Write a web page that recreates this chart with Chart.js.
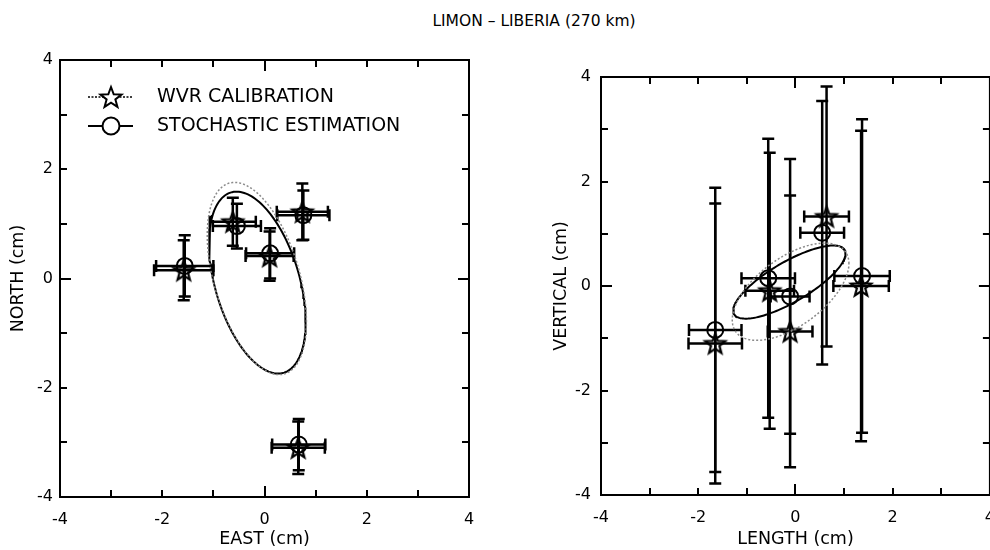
<!DOCTYPE html>
<html>
<head>
<meta charset="utf-8">
<title>LIMON - LIBERIA</title>
<script src="https://cdn.jsdelivr.net/npm/chart.js@4.4.0/dist/chart.umd.min.js"></script>
<style>
    html, body { margin: 0; padding: 0; background: #fff; }
    body { width: 990px; height: 550px; overflow: hidden; position: relative; font-family: "DejaVu Sans", sans-serif; }
    #plotTitle { position: absolute; left: 334px; width: 400px; top: 12px; text-align: center; font-size: 15.5px; color: #000; }
    #horizChart { position: absolute; left: 0; top: 0; }
    #vertChart { position: absolute; left: 520px; top: 0; }
</style>
</head>
<body>
<div id="plotTitle">LIMON – LIBERIA (270 km)</div>
<canvas id="horizChart" width="500" height="550"></canvas>
<canvas id="vertChart" width="488" height="550"></canvas>
<script>
// baseline components, cm
var eastWvr       = [-1.58, -0.62, 0.10, 0.74, 0.66];
var northWvr      = [0.15, 1.04, 0.41, 1.22, -3.10];
var eastWvrErr    = [0.58, 0.45, 0.47, 0.50, 0.52];
var northWvrErr   = [0.55, 0.44, 0.45, 0.52, 0.48];
var eastSto       = [-1.56, -0.54, 0.11, 0.76, 0.67];
var northSto      = [0.23, 0.96, 0.46, 1.16, -3.04];
var eastStoErr    = [0.56, 0.47, 0.47, 0.51, 0.52];
var northStoErr   = [0.56, 0.41, 0.46, 0.45, 0.47];

var lengthWvr      = [-1.65, -0.53, -0.11, 0.64, 1.35];
var verticalWvr    = [-1.10, -0.09, -0.87, 1.33, 0.00];
var lengthWvrErr   = [0.55, 0.50, 0.46, 0.46, 0.57];
var verticalWvrErr = [2.68, 2.64, 2.60, 2.49, 2.97];
var lengthSto      = [-1.65, -0.56, -0.11, 0.55, 1.37];
var verticalSto    = [-0.84, 0.15, -0.20, 1.02, 0.19];
var lengthStoErr   = [0.54, 0.55, 0.40, 0.45, 0.57];
var verticalStoErr = [2.72, 2.67, 2.63, 2.52, 3.00];

// error ellipses: centre x, centre y, sigma x, sigma y, correlation
var horizEllipseSto = [-0.14, -0.075, 0.945, 1.665, -0.43];
var horizEllipseWvr = [-0.15, 0.00, 0.97, 1.76, -0.45];
var vertEllipseSto  = [-0.125, 0.075, 1.155, 0.70, 0.78];
var vertEllipseWvr  = [-0.10, -0.11, 1.20, 0.93, 0.58];

var labelTicks = [-4, -2, 0, 2, 4];
var legendLabels = ['WVR CALIBRATION', 'STOCHASTIC ESTIMATION'];

var ink = '#000';

function toPoints(xs, ys) {
    var pts = [];
    for (var i = 0; i < xs.length; i++) {
        pts.push({ x: xs[i], y: ys[i] });
    }
    return pts;
}

function ellipsePoints(e) {
    var pts = [];
    var n = 160;
    for (var i = 0; i <= n; i++) {
        var t = i / n * 2 * Math.PI;
        pts.push({
            x: e[0] + e[2] * Math.cos(t),
            y: e[1] + e[3] * (e[4] * Math.cos(t) + Math.sqrt(1 - e[4] * e[4]) * Math.sin(t))
        });
    }
    return pts;
}

// five pointed outline star used as a point style
function makeStar(r, lw, fill) {
    var c = document.createElement('canvas');
    var size = Math.ceil(2 * r + lw + 4);
    c.width = size;
    c.height = size;
    var ctx = c.getContext('2d');
    ctx.translate(size / 2, size / 2 + 1);
    ctx.beginPath();
    for (var i = 0; i < 10; i++) {
        var rad = i % 2 === 0 ? r : r * 0.42;
        var a = -Math.PI / 2 + i * Math.PI / 5;
        if (i === 0) ctx.moveTo(rad * Math.cos(a), rad * Math.sin(a));
        else ctx.lineTo(rad * Math.cos(a), rad * Math.sin(a));
    }
    ctx.closePath();
    if (fill) {
        ctx.fillStyle = fill;
        ctx.fill();
    }
    ctx.lineWidth = lw;
    ctx.strokeStyle = ink;
    ctx.stroke();
    return c;
}

var plotStar = makeStar(10.5, 2.2);
var legendStar = makeStar(11, 2, '#fff');

// inward tick marks on all four sides plus the box
var framePlugin = {
    id: 'frame',
    afterDraw: function (chart) {
        var ctx = chart.ctx;
        var a = chart.chartArea;
        var xs = chart.scales.x;
        var ys = chart.scales.y;
        ctx.save();
        ctx.strokeStyle = ink;
        ctx.lineWidth = 2;
        ctx.strokeRect(a.left, a.top, a.right - a.left, a.bottom - a.top);
        for (var v = -3; v <= 3; v++) {
            var len = v === 0 ? 11 : 7;
            var px = Math.round(xs.getPixelForValue(v));
            var py = Math.round(ys.getPixelForValue(v));
            ctx.beginPath();
            ctx.moveTo(px, a.bottom);
            ctx.lineTo(px, a.bottom - len);
            ctx.moveTo(px, a.top);
            ctx.lineTo(px, a.top + len);
            ctx.moveTo(a.left, py);
            ctx.lineTo(a.left + len, py);
            ctx.moveTo(a.right, py);
            ctx.lineTo(a.right - len, py);
            ctx.stroke();
        }
        ctx.restore();
    }
};

// error bars with caps, read from dataset.errX / dataset.errY
var errorBarPlugin = {
    id: 'errorBars',
    beforeDatasetsDraw: function (chart) {
        var ctx = chart.ctx;
        var xs = chart.scales.x;
        var ys = chart.scales.y;
        var cap = 6;
        ctx.save();
        ctx.strokeStyle = ink;
        ctx.lineWidth = 2.5;
        chart.data.datasets.forEach(function (ds) {
            if (!ds.errX) return;
            ds.data.forEach(function (p, i) {
                var x = xs.getPixelForValue(p.x);
                var y = ys.getPixelForValue(p.y);
                var x0 = xs.getPixelForValue(p.x - ds.errX[i]);
                var x1 = xs.getPixelForValue(p.x + ds.errX[i]);
                var y0 = ys.getPixelForValue(p.y - ds.errY[i]);
                var y1 = ys.getPixelForValue(p.y + ds.errY[i]);
                ctx.beginPath();
                ctx.moveTo(x0, y);
                ctx.lineTo(x1, y);
                ctx.moveTo(x0, y - cap);
                ctx.lineTo(x0, y + cap);
                ctx.moveTo(x1, y - cap);
                ctx.lineTo(x1, y + cap);
                ctx.moveTo(x, y0);
                ctx.lineTo(x, y1);
                ctx.moveTo(x - cap, y0);
                ctx.lineTo(x + cap, y0);
                ctx.moveTo(x - cap, y1);
                ctx.lineTo(x + cap, y1);
                ctx.stroke();
            });
        });
        ctx.restore();
    }
};

var legendPlugin = {
    id: 'boxLegend',
    afterDraw: function (chart) {
        var ctx = chart.ctx;
        var a = chart.chartArea;
        var lx = a.left + 28;
        var rows = [a.top + 37, a.top + 66];
        ctx.save();
        ctx.strokeStyle = ink;
        // dotted line with star
        ctx.lineWidth = 1.5;
        ctx.setLineDash([2, 1.5]);
        ctx.beginPath();
        ctx.moveTo(lx, rows[0]);
        ctx.lineTo(lx + 45, rows[0]);
        ctx.stroke();
        ctx.setLineDash([]);
        ctx.drawImage(legendStar, lx + 23 - legendStar.width / 2, rows[0] - legendStar.height / 2);
        // solid line with circle
        ctx.lineWidth = 2;
        ctx.beginPath();
        ctx.moveTo(lx, rows[1]);
        ctx.lineTo(lx + 45, rows[1]);
        ctx.stroke();
        ctx.beginPath();
        ctx.fillStyle = '#fff';
        ctx.arc(lx + 23, rows[1], 8.5, 0, 2 * Math.PI);
        ctx.fill();
        ctx.stroke();
        ctx.fillStyle = ink;
        ctx.font = '19px "DejaVu Sans"';
        ctx.textBaseline = 'middle';
        ctx.fillText(legendLabels[0], lx + 69, rows[0]);
        ctx.fillText(legendLabels[1], lx + 69, rows[1]);
        ctx.restore();
    }
};

function axisOptions(titleText, size, titlePad, tickPad, horizontal) {
    return {
        type: 'linear',
        min: -4,
        max: 4,
        grid: { display: false, drawTicks: false },
        border: { display: false },
        ticks: {
            stepSize: 1,
            autoSkip: false,
            maxRotation: 0,
            padding: tickPad,
            color: ink,
            font: { family: 'DejaVu Sans', size: 16 },
            callback: function (v) {
                return labelTicks.indexOf(v) >= 0 ? String(v) : '';
            }
        },
        title: {
            display: true,
            text: titleText,
            color: ink,
            font: { family: 'DejaVu Sans', size: 17.5 },
            padding: horizontal ? { top: 0, bottom: 0 } : { top: titlePad, bottom: 0 }
        },
        afterFit: function (scale) {
            if (horizontal) scale.height = size;
            else scale.width = size;
        }
    };
}

function buildChart(canvasId, sets, layoutPad, xAxis, yAxis, plugins) {
    var datasets = [
        {
            type: 'line',
            data: ellipsePoints(sets.ellWvr),
            borderColor: '#8a8a8a',
            borderWidth: 1.5,
            borderDash: [2, 2],
            pointRadius: 0,
            fill: false,
            tension: 0
        },
        {
            type: 'line',
            data: ellipsePoints(sets.ellSto),
            borderColor: ink,
            borderWidth: 2,
            pointRadius: 0,
            fill: false,
            tension: 0
        },
        {
            type: 'scatter',
            label: legendLabels[0],
            data: toPoints(sets.xWvr, sets.yWvr),
            errX: sets.xWvrErr,
            errY: sets.yWvrErr,
            pointStyle: plotStar,
            pointRadius: 10
        },
        {
            type: 'scatter',
            label: legendLabels[1],
            data: toPoints(sets.xSto, sets.ySto),
            errX: sets.xStoErr,
            errY: sets.yStoErr,
            pointStyle: 'circle',
            pointRadius: 8,
            borderWidth: 2,
            borderColor: ink,
            backgroundColor: 'rgba(0,0,0,0)'
        }
    ];

    return new Chart(document.getElementById(canvasId), {
        type: 'scatter',
        data: { datasets: datasets },
        options: {
            responsive: false,
            animation: false,
            layout: { padding: layoutPad },
            plugins: { legend: { display: false }, tooltip: { enabled: false } },
            scales: { x: xAxis, y: yAxis }
        },
        plugins: plugins
    });
}

buildChart('horizChart', {
    xWvr: eastWvr, yWvr: northWvr, xWvrErr: eastWvrErr, yWvrErr: northWvrErr,
    xSto: eastSto, ySto: northSto, xStoErr: eastStoErr, yStoErr: northStoErr,
    ellWvr: horizEllipseWvr, ellSto: horizEllipseSto
}, { left: 0, top: 60, right: 31, bottom: 0 },
    axisOptions('EAST (cm)', 53, 0, 13, true),
    axisOptions('NORTH (cm)', 60, 7.5, 7, false),
    [errorBarPlugin, framePlugin, legendPlugin]);

buildChart('vertChart', {
    xWvr: lengthWvr, yWvr: verticalWvr, xWvrErr: lengthWvrErr, yWvrErr: verticalWvrErr,
    xSto: lengthSto, ySto: verticalSto, xStoErr: lengthStoErr, yStoErr: verticalStoErr,
    ellWvr: vertEllipseWvr, ellSto: vertEllipseSto
}, { left: 0, top: 77, right: 7, bottom: 0 },
    axisOptions('LENGTH (cm)', 55, 0, 13, true),
    axisOptions('VERTICAL (cm)', 81, 31, 10, false),
    [errorBarPlugin, framePlugin]);
</script>
</body>
</html>
